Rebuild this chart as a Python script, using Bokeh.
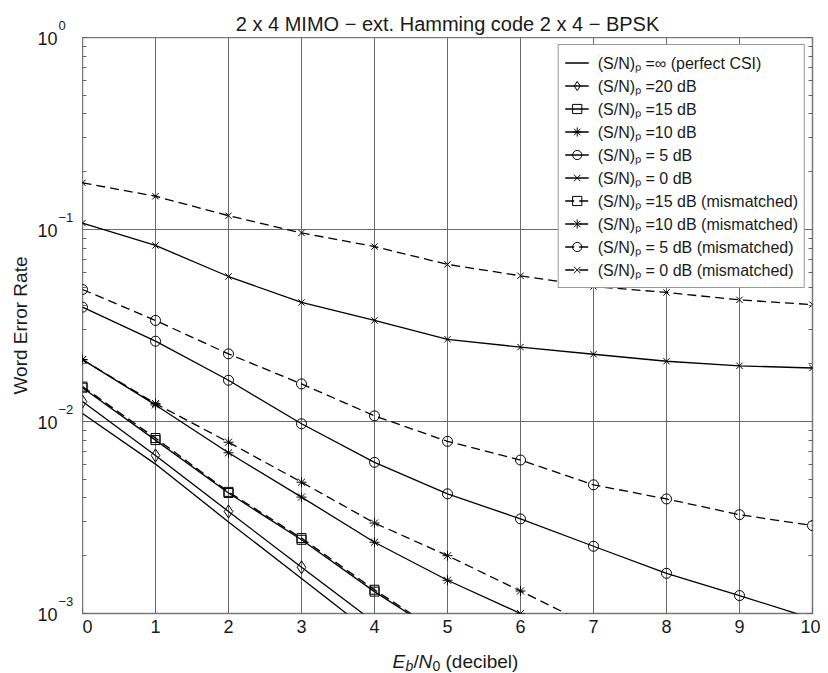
import math
from bokeh.plotting import figure
from bokeh.layouts import row, column
from bokeh.models import (FixedTicker, LogAxis, CustomJSTickFormatter, Legend, LegendItem,
                          Label, LabelSet, ColumnDataSource, Range1d)
from bokeh.core.properties import value
from bokeh.embed import file_html
from bokeh.resources import INLINE

# ---------------- data ----------------
ebn0 = [0, 1, 2, 3, 4, 5, 6, 7, 8, 9, 10]

wer_perfect = [1.10e-2, 6.0e-3, 3.0e-3, 1.52e-3, 7.7e-4]
wer_20db = [1.27e-2, 6.65e-3, 3.4e-3, 1.74e-3, 9.0e-4]
wer_15db = [1.50e-2, 8.0e-3, 4.24e-3, 2.42e-3, 1.30e-3, 7.4e-4]
wer_10db = [2.10e-2, 1.22e-2, 6.87e-3, 4.04e-3, 2.35e-3, 1.49e-3, 1.0e-3, 6.5e-4]
wer_5db = [3.94e-2, 2.62e-2, 1.64e-2, 9.73e-3, 6.13e-3, 4.2e-3, 3.11e-3, 2.24e-3, 1.62e-3, 1.24e-3, 9.4e-4]
wer_0db = [0.108, 8.26e-2, 5.69e-2, 4.17e-2, 3.36e-2, 2.68e-2, 2.44e-2, 2.24e-2, 2.06e-2, 1.95e-2, 1.90e-2]
wer_15db_mm = [1.52e-2, 8.2e-3, 4.3e-3, 2.47e-3, 1.33e-3, 7.5e-4]
wer_10db_mm = [2.10e-2, 1.24e-2, 7.8e-3, 4.83e-3, 2.96e-3, 2.0e-3, 1.31e-3, 8.5e-4]
wer_5db_mm = [4.87e-2, 3.36e-2, 2.25e-2, 1.57e-2, 1.07e-2, 7.88e-3, 6.3e-3, 4.68e-3, 3.95e-3, 3.27e-3, 2.87e-3]
wer_0db_mm = [0.175, 0.149, 0.118, 9.6e-2, 8.15e-2, 6.58e-2, 5.74e-2, 5.05e-2, 4.7e-2, 4.3e-2, 4.06e-2]

legend_labels = [
    "(S/N)\u209a =\u221e (perfect CSI)",
    "(S/N)\u209a =20 dB",
    "(S/N)\u209a =15 dB",
    "(S/N)\u209a =10 dB",
    "(S/N)\u209a = 5 dB",
    "(S/N)\u209a = 0 dB",
    "(S/N)\u209a =15 dB (mismatched)",
    "(S/N)\u209a =10 dB (mismatched)",
    "(S/N)\u209a = 5 dB (mismatched)",
    "(S/N)\u209a = 0 dB (mismatched)",
]

x_ticks = [0, 1, 2, 3, 4, 5, 6, 7, 8, 9, 10]
y_ticks = [1e-3, 1e-2, 1e-1, 1]
y_tick_base = ["10", "10", "10", "10"]
y_tick_exp = ["\u22123", "\u22122", "\u22121", "0"]

title_text = "2 x 4 MIMO \u2212 ext. Hamming code 2 x 4 \u2212 BPSK"
y_label_text = "Word Error Rate"
x_lo, x_hi = 0, 10
y_lo, y_hi = 1e-3, 1

FONT = "Liberation Sans"
TXT = "#1a1a1a"

# ---------------- layout constants (pixels) ----------------
LEFT_W = 82
TOP_B = 37
FRAME_W = 730
FRAME_H = 576
BOTTOM_B = 30
RIGHT_B = 8
XLAB_H = 30
RIGHT_COL_W = FRAME_W + RIGHT_B

def strip(w, h, **kw):
    f = figure(frame_width=w, frame_height=h, output_backend="svg", toolbar_location=None,
               x_axis_location=None, y_axis_location=None, frame_align=False,
               min_border_left=0, min_border_right=0, min_border_top=0, min_border_bottom=0,
               outline_line_color=None, background_fill_color="white",
               border_fill_color="white", **kw)
    f.grid.visible = False
    return f

# ---------------- main figure ----------------
p = figure(frame_width=FRAME_W, frame_height=FRAME_H,
           x_range=Range1d(x_lo, x_hi), y_range=Range1d(y_lo, y_hi),
           y_axis_type="log", output_backend="svg", toolbar_location=None,
           min_border_left=0, min_border_right=RIGHT_B, min_border_top=0,
           min_border_bottom=BOTTOM_B, frame_align=False,
           background_fill_color="white", border_fill_color="white")

p.outline_line_color = "#7a7a7a"
p.outline_line_width = 1.5

y_minor = [k * d for d in y_ticks[:-1] for k in range(2, 10)]
yticker = FixedTicker(ticks=y_ticks, minor_ticks=y_minor)
empty_fmt = CustomJSTickFormatter(code="return ''")

xa = p.xaxis[0]
xa.ticker = FixedTicker(ticks=x_ticks)
xa.major_label_text_font = FONT
xa.major_label_text_font_size = "18px"
xa.major_label_text_color = TXT
xa.major_label_standoff = 6
xa.major_tick_in = 6
xa.major_tick_out = 0
xa.minor_tick_line_color = None
xa.axis_line_color = None
xa.major_tick_line_color = "#666666"

ya = p.yaxis[0]
ya.ticker = yticker
ya.formatter = empty_fmt
ya.major_label_standoff = 0
ya.major_tick_in = 6
ya.major_tick_out = 0
ya.minor_tick_in = 4
ya.minor_tick_out = 0
ya.axis_line_color = None
ya.major_tick_line_color = "#666666"
ya.minor_tick_line_color = "#666666"

ra = LogAxis(ticker=yticker, formatter=empty_fmt, major_label_standoff=0,
             major_tick_in=6, major_tick_out=0, minor_tick_in=4, minor_tick_out=0,
             axis_line_color=None, major_tick_line_color="#666666",
             minor_tick_line_color="#666666")
p.add_layout(ra, "right")

p.xgrid.grid_line_color = "#6a6a6a"
p.xgrid.grid_line_width = 1
p.ygrid.grid_line_color = "#6a6a6a"
p.ygrid.grid_line_width = 1
p.ygrid.minor_grid_line_color = None

LW = 1.3
DASH = "9 5"

def curve(ys, dash, marker, size):
    xs = ebn0[:len(ys)]
    lr = p.line(xs, ys, line_color="black", line_width=LW, line_dash=dash)
    rs = [lr]
    if marker is not None:
        sr = p.scatter(xs, ys, marker=marker, size=size, line_color="black",
                       fill_color=None, line_width=1)
        rs.append(sr)
    return rs

series = [
    curve(wer_perfect, "solid", None, 0),
    curve(wer_20db, "solid", "diamond", 13),
    curve(wer_15db, "solid", "square", 9),
    curve(wer_10db, "solid", "asterisk", 10),
    curve(wer_5db, "solid", "circle", 10),
    curve(wer_0db, "solid", "x", 9),
    curve(wer_15db_mm, DASH, "square", 9),
    curve(wer_10db_mm, DASH, "asterisk", 10),
    curve(wer_5db_mm, DASH, "circle", 10),
    curve(wer_0db_mm, DASH, "x", 9),
]

items = [LegendItem(label=lab, renderers=rs) for lab, rs in zip(legend_labels, series)]
legend = Legend(items=items, location="top_right", margin=7, padding=6, spacing=0,
                glyph_width=24, glyph_height=23, label_height=23, label_standoff=9,
                label_text_font=FONT, label_text_font_size="16px", label_text_color=TXT,
                border_line_color="#333333", border_line_width=1,
                background_fill_color="white", background_fill_alpha=1.0)
p.add_layout(legend)

# ---------------- top strip: title ----------------
tf = strip(RIGHT_COL_W, TOP_B, x_range=Range1d(0, 1), y_range=Range1d(0, 1))
tf.add_layout(Label(x=FRAME_W / 2, y=TOP_B - 23, x_units="screen", y_units="screen",
                    text=title_text, text_align="center", text_baseline="alphabetic",
                    text_font=FONT, text_font_size="20px", text_color=TXT))

# ---------------- left strip: y tick labels + y axis label ----------------
px_per_decade = FRAME_H / (math.log10(y_hi) - math.log10(y_lo))
left_h = TOP_B + FRAME_H + BOTTOM_B
ly_range = Range1d(y_lo / 10 ** (BOTTOM_B / px_per_decade), y_hi * 10 ** (TOP_B / px_per_decade))
lf = strip(LEFT_W, left_h, x_range=Range1d(0, LEFT_W), y_range=ly_range, y_axis_type="log")

src = ColumnDataSource(dict(x=[57] * len(y_ticks), xe=[58] * len(y_ticks), y=y_ticks,
                            base=y_tick_base, exp=y_tick_exp))
lf.add_layout(LabelSet(x="x", y="y", x_units="screen", text="base", source=src, y_offset=-1,
                       text_align="right", text_baseline="middle",
                       text_font=value(FONT), text_font_size="18px", text_color=TXT))
lf.add_layout(LabelSet(x="xe", y="y", x_units="screen", text="exp", source=src, y_offset=8,
                       text_align="left", text_baseline="alphabetic",
                       text_font=value(FONT), text_font_size="13px", text_color=TXT))
lf.add_layout(Label(x=20, y=math.sqrt(y_lo * y_hi), x_units="screen", text=y_label_text,
                    angle=math.pi / 2, text_align="center", text_baseline="middle",
                    text_font=FONT, text_font_size="19px", text_color=TXT))

# ---------------- bottom strip: x axis label E_b/N_0 (decibel) ----------------
bf = strip(RIGHT_COL_W, XLAB_H, x_range=Range1d(0, 1), y_range=Range1d(0, 1))

base_y = 12
sub_y = 8
parts = [
    ("E", 310, base_y, "19px", "italic"),
    ("b", 323, sub_y, "14px", "italic"),
    ("/", 331, base_y, "19px", "normal"),
    ("N", 336, base_y, "19px", "italic"),
    ("0", 350, sub_y, "14px", "normal"),
    ("(decibel)", 363, base_y, "19px", "normal"),
]
for txt, xs, ys, fs, st in parts:
    bf.add_layout(Label(x=xs, y=ys, x_units="screen", y_units="screen", text=txt,
                        text_font=FONT, text_font_size=fs, text_font_style=st,
                        text_align="left", text_baseline="alphabetic", text_color=TXT))

layout = row(lf, column(tf, p, bf, spacing=0), spacing=0)
open("out.html", "w").write(file_html(layout, INLINE))
